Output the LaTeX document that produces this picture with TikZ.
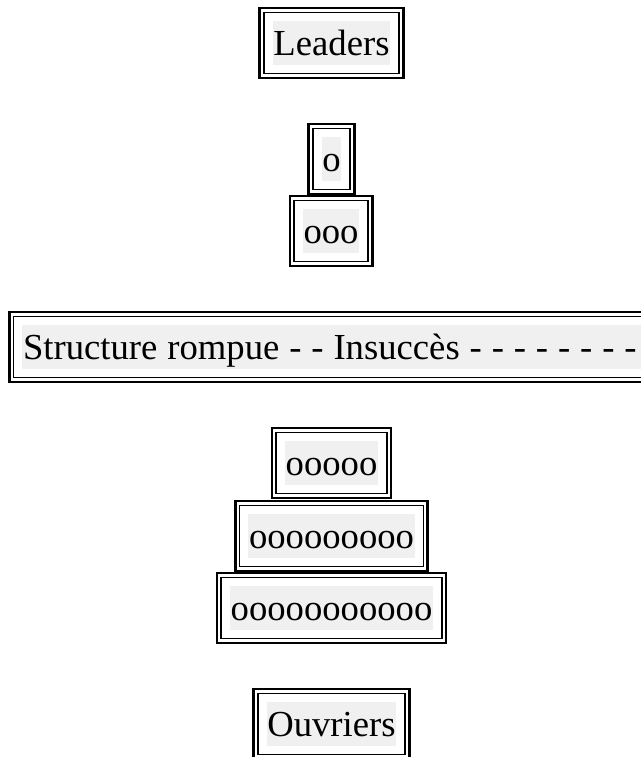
\documentclass[tikz,border=0pt]{standalone}
\usepackage{fontspec}
\setmainfont{Liberation Serif}
\usepackage{xcolor}
\usetikzlibrary{fit}
\definecolor{cellgray}{RGB}{240,240,240}
\tikzset{
	cell/.style={fill=cellgray, inner xsep=0.6pt, inner ysep=0pt, text height=26.2pt, text depth=6.8pt, font=\fontsize{27.5}{32}\selectfont},
	outerframe/.style={draw, line width=1.9pt, inner sep=9.5pt},
	innerframe/.style={draw, line width=1.2pt, inner sep=6.3pt}
}
\begin{document}
\begin{tikzpicture}[x=0.75pt,y=0.75pt,yscale=-1,xscale=1]
	\useasboundingbox (0,0) rectangle (641,757);
	
	% Text Node
	\node [cell] (leaders) at (331.5,43) {Leaders};
	\node [cell] (lvlA) at (331.5,159) {o};
	\node [cell] (lvlB) at (331,231) {ooo};
	\node [cell, anchor=west] (rupture) at (22,347) {\spaceskip=0.27em Structure rompue - - Insuccès - - - - - - - -\hspace*{4pt}};
	\node [cell] (lvlC) at (331.5,463) {ooooo};
	\node [cell] (lvlD) at (331.5,536) {ooooooooo};
	\node [cell] (lvlE) at (331.5,608) {ooooooooooo};
	\node [cell] (ouvriers) at (331.5,724) {Ouvriers};
	
	% Frames
	\foreach \n in {leaders,lvlA,lvlB,rupture,lvlC,lvlD,lvlE,ouvriers}{
		\node [outerframe, fit=(\n)] (\n-out) {};
		\node [innerframe, fit=(\n)] (\n-in) {};
	}
	
\end{tikzpicture}
\end{document}
